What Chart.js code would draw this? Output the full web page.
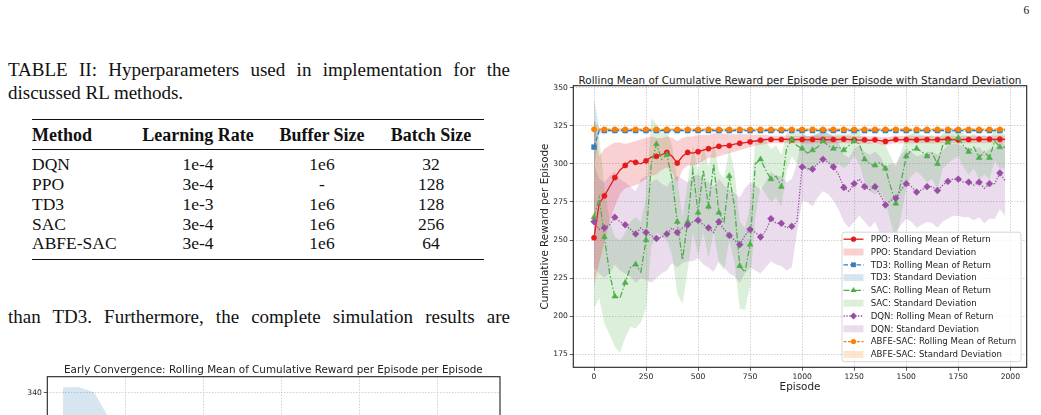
<!doctype html>
<html lang="en">
<head>
<meta charset="utf-8">
<title>Rolling Mean of Cumulative Reward</title>
<script src="https://cdn.jsdelivr.net/npm/chart.js@4.4.1/dist/chart.umd.min.js"></script>
<style>
  body { margin: 0; width: 1041px; height: 415px; overflow: hidden; background: #fff; position: relative;
         font-family: "Liberation Serif", "Times New Roman", serif; color: #111; }
  .abs { position: absolute; white-space: nowrap; }
  .cap { font-size: 19px; line-height: 22px; }
  .just { width: 502px; text-align: justify; text-align-last: justify; white-space: normal; }
  .th { font-weight: bold; font-size: 18px; line-height: 18px; }
  .td { font-size: 17.5px; line-height: 17.5px; }
  .c { text-align: center; width: 120px; }
  .rule { position: absolute; left: 32px; width: 452px; background: #111; }
  .ttl { font-family: "DejaVu Sans", sans-serif; font-size: 10.4px; line-height: 12px; text-align: center; color: #222; }
</style>
</head>
<body>

<div class="abs" style="left:1023.5px; top:5px; font-size:11.5px; line-height:11px;">6</div>

<div class="abs cap just" style="left:8px; top:59.3px;">TABLE II: Hyperparameters used in implementation for the</div>
<div class="abs cap" style="left:8px; top:81.9px;">discussed RL methods.</div>

<div class="rule" style="top:118.5px; height:1.5px;"></div>
<div class="abs th" style="left:32px; top:125.6px;">Method</div>
<div class="abs th c" style="left:138px; top:125.6px;">Learning Rate</div>
<div class="abs th c" style="left:262px; top:125.6px;">Buffer Size</div>
<div class="abs th c" style="left:371px; top:125.6px;">Batch Size</div>
<div class="rule" style="top:148.8px; height:1px;"></div>

<div class="abs td" style="left:32px; top:156.1px;">DQN</div>
<div class="abs td c" style="left:138px; top:156.1px;">1e-4</div>
<div class="abs td c" style="left:262px; top:156.1px;">1e6</div>
<div class="abs td c" style="left:371px; top:156.1px;">32</div>

<div class="abs td" style="left:32px; top:175.9px;">PPO</div>
<div class="abs td c" style="left:138px; top:175.9px;">3e-4</div>
<div class="abs td c" style="left:262px; top:175.9px;">-</div>
<div class="abs td c" style="left:371px; top:175.9px;">128</div>

<div class="abs td" style="left:32px; top:195.7px;">TD3</div>
<div class="abs td c" style="left:138px; top:195.7px;">1e-3</div>
<div class="abs td c" style="left:262px; top:195.7px;">1e6</div>
<div class="abs td c" style="left:371px; top:195.7px;">128</div>

<div class="abs td" style="left:32px; top:215.5px;">SAC</div>
<div class="abs td c" style="left:138px; top:215.5px;">3e-4</div>
<div class="abs td c" style="left:262px; top:215.5px;">1e6</div>
<div class="abs td c" style="left:371px; top:215.5px;">256</div>

<div class="abs td" style="left:32px; top:235.3px;">ABFE-SAC</div>
<div class="abs td c" style="left:138px; top:235.3px;">3e-4</div>
<div class="abs td c" style="left:262px; top:235.3px;">1e6</div>
<div class="abs td c" style="left:371px; top:235.3px;">64</div>
<div class="rule" style="top:258.6px; height:1.5px;"></div>

<div class="abs cap just" style="left:8px; top:305.9px;">than TD3. Furthermore, the complete simulation results are</div>

<!-- main chart -->
<div class="abs ttl" style="left:500px; top:73.5px; width:600px;">Rolling Mean of Cumulative Reward per Episode per Episode with Standard Deviation</div>
<canvas id="mainChart" width="511" height="330" style="position:absolute; left:530px; top:68px;"></canvas>

<!-- second chart, only its top is on the page -->
<div class="abs ttl" style="left:0px; top:362.5px; width:546.8px;">Early Convergence: Rolling Mean of Cumulative Reward per Episode per Episode</div>
<canvas id="earlyChart" width="520" height="260" style="position:absolute; left:0px; top:358px;"></canvas>

<script>
// ---- data: main chart (episode, rolling mean, mean +/- std) ----
const episodes = [0,25,50,75,100,125,150,175,200,225,250,275,300,325,350,375,400,425,450,475,
  500,525,550,575,600,625,650,675,700,725,750,775,800,825,850,875,900,925,950,975,
  1000,1025,1050,1075,1100,1125,1150,1175,1200,1225,1250,1275,1300,1325,1350,1375,1400,1425,1450,1475,
  1500,1525,1550,1575,1600,1625,1650,1675,1700,1725,1750,1775,1800,1825,1850,1875,1900,1925,1950,1975];

const ppoMean = [251.5,274,279,285,291,296,299,302,301,300, 302,304.5,305,306,307.5,305,300.5,305,307.5,307,
  308,309,310,310.5,311.5,312,312,313,313.5,314, 314.5,315,315.5,316,316,316,316,316.2,315.8,316,
  316,315.8,316,316.2,316,315.8,316,316,316.2,316, 315.8,315.6,315.8,315.5,315.8,315.3,314.7,315.5,316,315.8,
  316,316,315.8,316,316,315.8,316,316,316.2,316, 315.8,316,316,316,316.2,316,316.2,316,316.2,316];
const ppoUp = [329,305,310,312,314,314,313,314,315,316, 317,318,317,317,318,317,315,317,318,318,
  319,319,319,320,320,320,319.5,319.5,319.5,319.5, 319.5,319,319,319,318.5,318.5,318.5,318.7,318.3,318.5,
  318.5,318.3,318.5,318.7,318.5,318.3,318.5,318.5,318.7,318.5, 318.3,318.1,318.3,318,318.3,317.8,317.3,318,318.5,318.3,
  318.5,318.5,318.3,318.5,318.5,318.3,318.5,318.5,318.7,318.5, 318.3,318.5,318.5,318.5,318.7,318.5,318.7,318.5,318.7,318.5];
const ppoLow = [220,235,248,262,272,280,284,285,286,288, 290,292,293,296,298,294,288,296,299,299,
  300,302,304,304,305,306,307,308,309,310, 311,312,312.5,313,313.5,313.5,313.5,313.7,313.3,313.5,
  313.5,313.3,313.5,313.7,313.5,313.3,313.5,313.5,313.7,313.5, 313.3,313.1,313.3,313,313.3,312.8,312.1,313,313.5,313.3,
  313.5,313.5,313.3,313.5,313.5,313.3,313.5,313.5,313.7,313.5, 313.3,313.5,313.5,313.5,313.7,313.5,313.7,313.5,313.7,313.5];

const td3Mean = [311,321.8,321.8,321.8,321.8,321.8,321.8,321.8,321.8,321.8, 321.8,321.8,321.8,321.8,321.8,321.8,321.8,321.8,321.8,321.8,
  321.8,321.8,321.8,321.8,321.8,321.8,321.8,321.8,321.8,321.8, 321.8,321.8,321.8,321.8,321.8,321.8,321.8,321.8,321.8,321.8,
  321.8,321.8,321.8,321.8,321.8,321.8,321.8,321.8,321.8,321.8, 321.8,321.8,321.8,321.8,321.8,321.8,321.8,321.8,321.8,321.8,
  321.8,321.8,321.8,321.8,321.8,321.8,321.8,321.8,321.8,321.8, 321.8,321.8,321.8,321.8,321.8,321.8,321.8,321.8,321.8,321.8];
const td3Up = [343,323.5,322.6,322.6,322.6,322.6,322.6,322.6,322.6,322.6, 322.6,322.6,322.6,322.6,322.6,322.6,322.6,322.6,322.6,322.6,
  322.6,322.6,322.6,322.6,322.6,322.6,322.6,322.6,322.6,322.6, 322.6,322.6,322.6,322.6,322.6,322.6,322.6,322.6,322.6,322.6,
  322.6,322.6,322.6,322.6,322.6,322.6,322.6,322.6,322.6,322.6, 322.6,322.6,322.6,322.6,322.6,322.6,322.6,322.6,322.6,322.6,
  322.6,322.6,322.6,322.6,322.6,322.6,322.6,322.6,322.6,322.6, 322.6,322.6,322.6,322.6,322.6,322.6,322.6,322.6,322.6,322.6];
const td3Low = [298,320,321,321,321,321,321,321,321,321, 321,321,321,321,321,321,321,321,321,321,
  321,321,321,321,321,321,321,321,321,321, 321,321,321,321,321,321,321,321,321,321,
  321,321,321,321,321,321,321,321,321,321, 321,321,321,321,321,321,321,321,321,321,
  321,321,321,321,321,321,321,321,321,321, 321,321,321,321,321,321,321,321,321,321];

const sacMean = [265,278,252,228,213,212,222,232,234,229, 250,300,313,303,306,290,262,237,262,296,
  268,296,272,300,268,262,292,272,233,229, 247,300,303,296,290,292,285,310,316,312,
  310,307,309,311,315,312,310,311,309,312, 315,313,303,300,299,301,297,285,274,288,
  305,309,310,308,305,307,300,312,314,316, 317,312,308,311,304,308,304,315,311,311];
const sacUp = [330,318,285,262,252,250,255,262,265,262, 278,330,326,320,322,312,290,265,288,312,
  295,312,298,315,295,290,310,295,262,258, 272,315,318,315,310,312,306,320,322,321,
  320,318,319,320,322,320,319,320,319,320, 322,321,316,314,313,314,312,305,298,308,
  318,320,320,319,318,319,315,320,321,322, 322,320,318,320,317,319,317,322,320,320];
const sacLow = [205,212,195,188,180,176,186,193,192,196, 205,245,255,252,250,240,215,208,230,255,
  240,255,238,255,235,230,250,235,205,204, 220,265,285,280,275,278,272,295,305,300,
  300,295,297,300,305,300,298,300,297,300, 305,300,288,282,280,282,275,262,250,265,
  285,292,295,292,288,290,283,297,300,303, 305,298,293,297,290,293,290,302,297,297];

const dqnMean = [262,257,258,260,265,262,260,257,254,258, 255,253,251,252,254,258,255,258,260,262,
  263,260,258,255,262,257,253,250,247,253, 257,255,252,256,264,261,261,258,259,262,
  298,297,296.5,300,303,301,298,293,284.5,282, 287,290,285,283,285,280,273,276,277.5,283,
  287,285,281.5,283,285,285,282.5,286,288.5,290, 290,288,288,286,288,284,287,287,294,289];
const dqnUp = [300,290,288,292,295,290,288,285,282,290, 292,288,290,287,285,290,292,290,288,292,
  293,290,288,285,290,286,283,281,278,284, 288,286,283,288,295,292,292,288,290,300,
  320,318,318,320,322,320,318,314,306,304, 310,312,308,306,308,305,298,300,300,306,
  310,308,305,306,308,308,306,309,312,313, 313,311,311,309,311,307,310,310,316,312];
const dqnLow = [232,228,225,228,234,230,228,226,222,225, 224,222,225,228,230,235,232,235,236,236,
  238,234,232,229,236,232,228,226,222,228, 232,230,228,232,236,234,233,230,232,255,
  276,275,272,278,282,280,276,270,262,258, 262,266,262,258,262,254,248,252,255,260,
  264,262,258,260,262,261,258,262,264,266, 266,265,265,263,265,261,264,264,270,266];

const abfeMean = [322.7,322.7,322.7,322.7,322.7,322.7,322.7,322.7,322.7,322.7, 322.7,322.7,322.7,322.7,322.7,322.7,322.7,322.7,322.7,322.7,
  322.7,322.7,322.7,322.7,322.7,322.7,322.7,322.7,322.7,322.7, 322.7,322.7,322.7,322.7,322.7,322.7,322.7,322.7,322.7,322.7,
  322.7,322.7,322.7,322.7,322.7,322.7,322.7,322.7,322.7,322.7, 322.7,322.7,322.7,322.7,322.7,322.7,322.7,322.7,322.7,322.7,
  322.7,322.7,322.7,322.7,322.7,322.7,322.7,322.7,322.7,322.7, 322.7,322.7,322.7,322.7,322.7,322.7,322.7,322.7,322.7,322.7];
const abfeUp = [329,323.5,323.4,323.4,323.4,323.4,323.4,323.4,323.4,323.4, 323.4,323.4,323.4,323.4,323.4,323.4,323.4,323.4,323.4,323.4,
  323.4,323.4,323.4,323.4,323.4,323.4,323.4,323.4,323.4,323.4, 323.4,323.4,323.4,323.4,323.4,323.4,323.4,323.4,323.4,323.4,
  323.4,323.4,323.4,323.4,323.4,323.4,323.4,323.4,323.4,323.4, 323.4,323.4,323.4,323.4,323.4,323.4,323.4,323.4,323.4,323.4,
  323.4,323.4,323.4,323.4,323.4,323.4,323.4,323.4,323.4,323.4, 323.4,323.4,323.4,323.4,323.4,323.4,323.4,323.4,323.4,323.4];
const abfeLow = [316,322,322,322,322,322,322,322,322,322, 322,322,322,322,322,322,322,322,322,322,
  322,322,322,322,322,322,322,322,322,322, 322,322,322,322,322,322,322,322,322,322,
  322,322,322,322,322,322,322,322,322,322, 322,322,322,322,322,322,322,322,322,322,
  322,322,322,322,322,322,322,322,322,322, 322,322,322,322,322,322,322,322,322,322];

const xTicks = [0, 250, 500, 750, 1000, 1250, 1500, 1750, 2000];
const yTicks = [175, 200, 225, 250, 275, 300, 325, 350];

// ---- data: early convergence chart (only its top is visible) ----
const earlyEpisodes = [2, 4, 6, 7.5, 9, 12, 16];
const earlyTd3Up = [342.6, 342.8, 340.2, 330, 322, 321, 321];
const earlyTd3Low = [300, 296, 300, 305, 312, 318, 319];
const earlyXTicks = [10, 20, 30, 40, 50];
const earlyYTicks = [260, 280, 300, 320, 340];

Chart.defaults.font.family = 'DejaVu Sans';
Chart.defaults.color = '#222';

function rgba(hex, a) {
  const n = parseInt(hex.slice(1), 16);
  return 'rgba(' + (n >> 16) + ',' + ((n >> 8) & 255) + ',' + (n & 255) + ',' + a + ')';
}
function pts(xs, ys) { return xs.map((x, i) => ({x: x, y: ys[i]})); }

const algos = [
  {name: 'PPO',      mean: ppoMean,  up: ppoUp,  low: ppoLow,  color: '#e41a1c', dash: [],            marker: 'circle',   r: 2.6, order: 5},
  {name: 'TD3',      mean: td3Mean,  up: td3Up,  low: td3Low,  color: '#377eb8', dash: [4.5, 2],      marker: 'rect',     r: 3.4, order: 4},
  {name: 'SAC',      mean: sacMean,  up: sacUp,  low: sacLow,  color: '#4daf4a', dash: [6, 2, 1.5, 2], marker: 'triangle', r: 3.4, order: 3},
  {name: 'DQN',      mean: dqnMean,  up: dqnUp,  low: dqnLow,  color: '#984ea3', dash: [1.3, 1.6],    marker: 'rectRot',  r: 3.4, order: 2},
  {name: 'ABFE-SAC', mean: abfeMean, up: abfeUp, low: abfeLow, color: '#ff7f00', dash: [3, 1.5],      marker: 'circle',   r: 2.6, order: 1}
];

const datasets = [];
algos.forEach(a => {
  datasets.push({ label: a.name + ' std up', data: pts(episodes, a.up), fill: '+1',
    backgroundColor: rgba(a.color, 0.2), borderWidth: 0, pointRadius: 0, order: 10 });
  datasets.push({ label: a.name + ' std low', data: pts(episodes, a.low), fill: false,
    borderWidth: 0, pointRadius: 0, order: 10 });
});
algos.forEach(a => {
  datasets.push({ label: a.name, data: pts(episodes, a.mean), fill: false,
    borderColor: a.color, borderWidth: 1.3, borderDash: a.dash,
    pointStyle: a.marker, pointBackgroundColor: a.color, pointBorderColor: a.color, pointBorderWidth: 0.5,
    pointRadius: ctx => (episodes[ctx.dataIndex] % 50 === 0 ? a.r : 0),
    order: a.order });
});

const framePlugin = {
  id: 'frame',
  afterDatasetsDraw(chart) {
    const c = chart.ctx, a = chart.chartArea;
    c.save();
    c.strokeStyle = '#222';
    c.lineWidth = 1.1;
    c.strokeRect(a.left, a.top, a.right - a.left, a.bottom - a.top);
    c.restore();
  }
};

const legendPlugin = {
  id: 'mplLegend',
  afterDraw(chart) {
    if (chart.canvas.id !== 'mainChart') return;
    const c = chart.ctx, a = chart.chartArea;
    const w = 179, h = 129.5;
    const bx = a.right - 5.7 - w, by = a.bottom - 5.6 - h;
    c.save();
    c.beginPath();
    c.roundRect(bx, by, w, h, 2.5);
    c.fillStyle = 'rgba(255,255,255,0.8)';
    c.fill();
    c.strokeStyle = '#cccccc';
    c.lineWidth = 0.8;
    c.stroke();
    c.font = '8.6px "DejaVu Sans"';
    c.textBaseline = 'middle';
    algos.forEach((al, k) => {
      const y1 = by + 7 + (2 * k) * 12.8;
      const y2 = y1 + 12.8;
      c.save();
      c.strokeStyle = al.color;
      c.lineWidth = 1.3;
      c.setLineDash(al.dash);
      c.beginPath();
      c.moveTo(bx + 1.5, y1);
      c.lineTo(bx + 21.5, y1);
      c.stroke();
      c.setLineDash([]);
      c.fillStyle = al.color;
      Chart.helpers.drawPoint(c, {pointStyle: al.marker, radius: al.r, rotation: 0, borderWidth: 0}, bx + 11.5, y1);
      c.fillStyle = rgba(al.color, 0.2);
      c.fillRect(bx + 1.5, y2 - 3.5, 20, 7);
      c.restore();
      c.fillStyle = '#222';
      c.fillText(al.name + ': Rolling Mean of Return', bx + 28.7, y1 + 0.5);
      c.fillText(al.name + ': Standard Deviation', bx + 28.7, y2 + 0.5);
    });
    c.restore();
  }
};

function axisOpts(min, max, ticks, title, fitKey, fitVal, titlePad) {
  return {
    type: 'linear', min: min, max: max,
    afterBuildTicks: s => { s.ticks = ticks.map(v => ({value: v})); },
    afterFit: s => { s[fitKey] = fitVal; },
    ticks: { font: {size: 7.6}, color: '#222', padding: 2, maxRotation: 0, autoSkip: false,
             callback: v => String(v) },
    grid: { color: '#c4c4c4', lineWidth: 0.8, tickLength: 3.5, tickColor: '#333', tickWidth: 0.8, tickBorderDash: [] },
    border: { display: false, dash: [1.5, 1.5] },
    title: { display: !!title, text: title, font: {size: 10.4}, color: '#222', padding: titlePad }
  };
}

new Chart(document.getElementById('mainChart'), {
  type: 'line',
  data: { datasets: datasets },
  options: {
    responsive: false, animation: false, devicePixelRatio: 1,
    layout: { padding: {top: 17.7, right: 14.3, bottom: 0, left: 0} },
    plugins: { legend: {display: false}, tooltip: {enabled: false} },
    elements: { line: {tension: 0} },
    scales: {
      x: axisOpts(-99.45, 2078.8, xTicks, 'Episode', 'height', 30.7, {top: 0, bottom: 4}),
      y: axisOpts(166.46, 351.31, yTicks, 'Cumulative Reward per Episode', 'width', 43.3, {top: 8.8, bottom: 0})
    }
  },
  plugins: [framePlugin, legendPlugin]
});

new Chart(document.getElementById('earlyChart'), {
  type: 'line',
  data: { datasets: [
    { label: 'TD3 std up', data: pts(earlyEpisodes, earlyTd3Up), fill: '+1',
      backgroundColor: rgba('#377eb8', 0.2), borderWidth: 0, pointRadius: 0 },
    { label: 'TD3 std low', data: pts(earlyEpisodes, earlyTd3Low), fill: false, borderWidth: 0, pointRadius: 0 }
  ] },
  options: {
    responsive: false, animation: false, devicePixelRatio: 1,
    layout: { padding: {top: 18.7, right: 20, bottom: 0, left: 0} },
    plugins: { legend: {display: false}, tooltip: {enabled: false} },
    scales: {
      x: axisOpts(0, 58, earlyXTicks, '', 'height', 30, {top: 0, bottom: 0}),
      y: axisOpts(242.35, 348, earlyYTicks, '', 'width', 47.3, {top: 0, bottom: 0})
    }
  },
  plugins: [framePlugin]
});
</script>
</body>
</html>
